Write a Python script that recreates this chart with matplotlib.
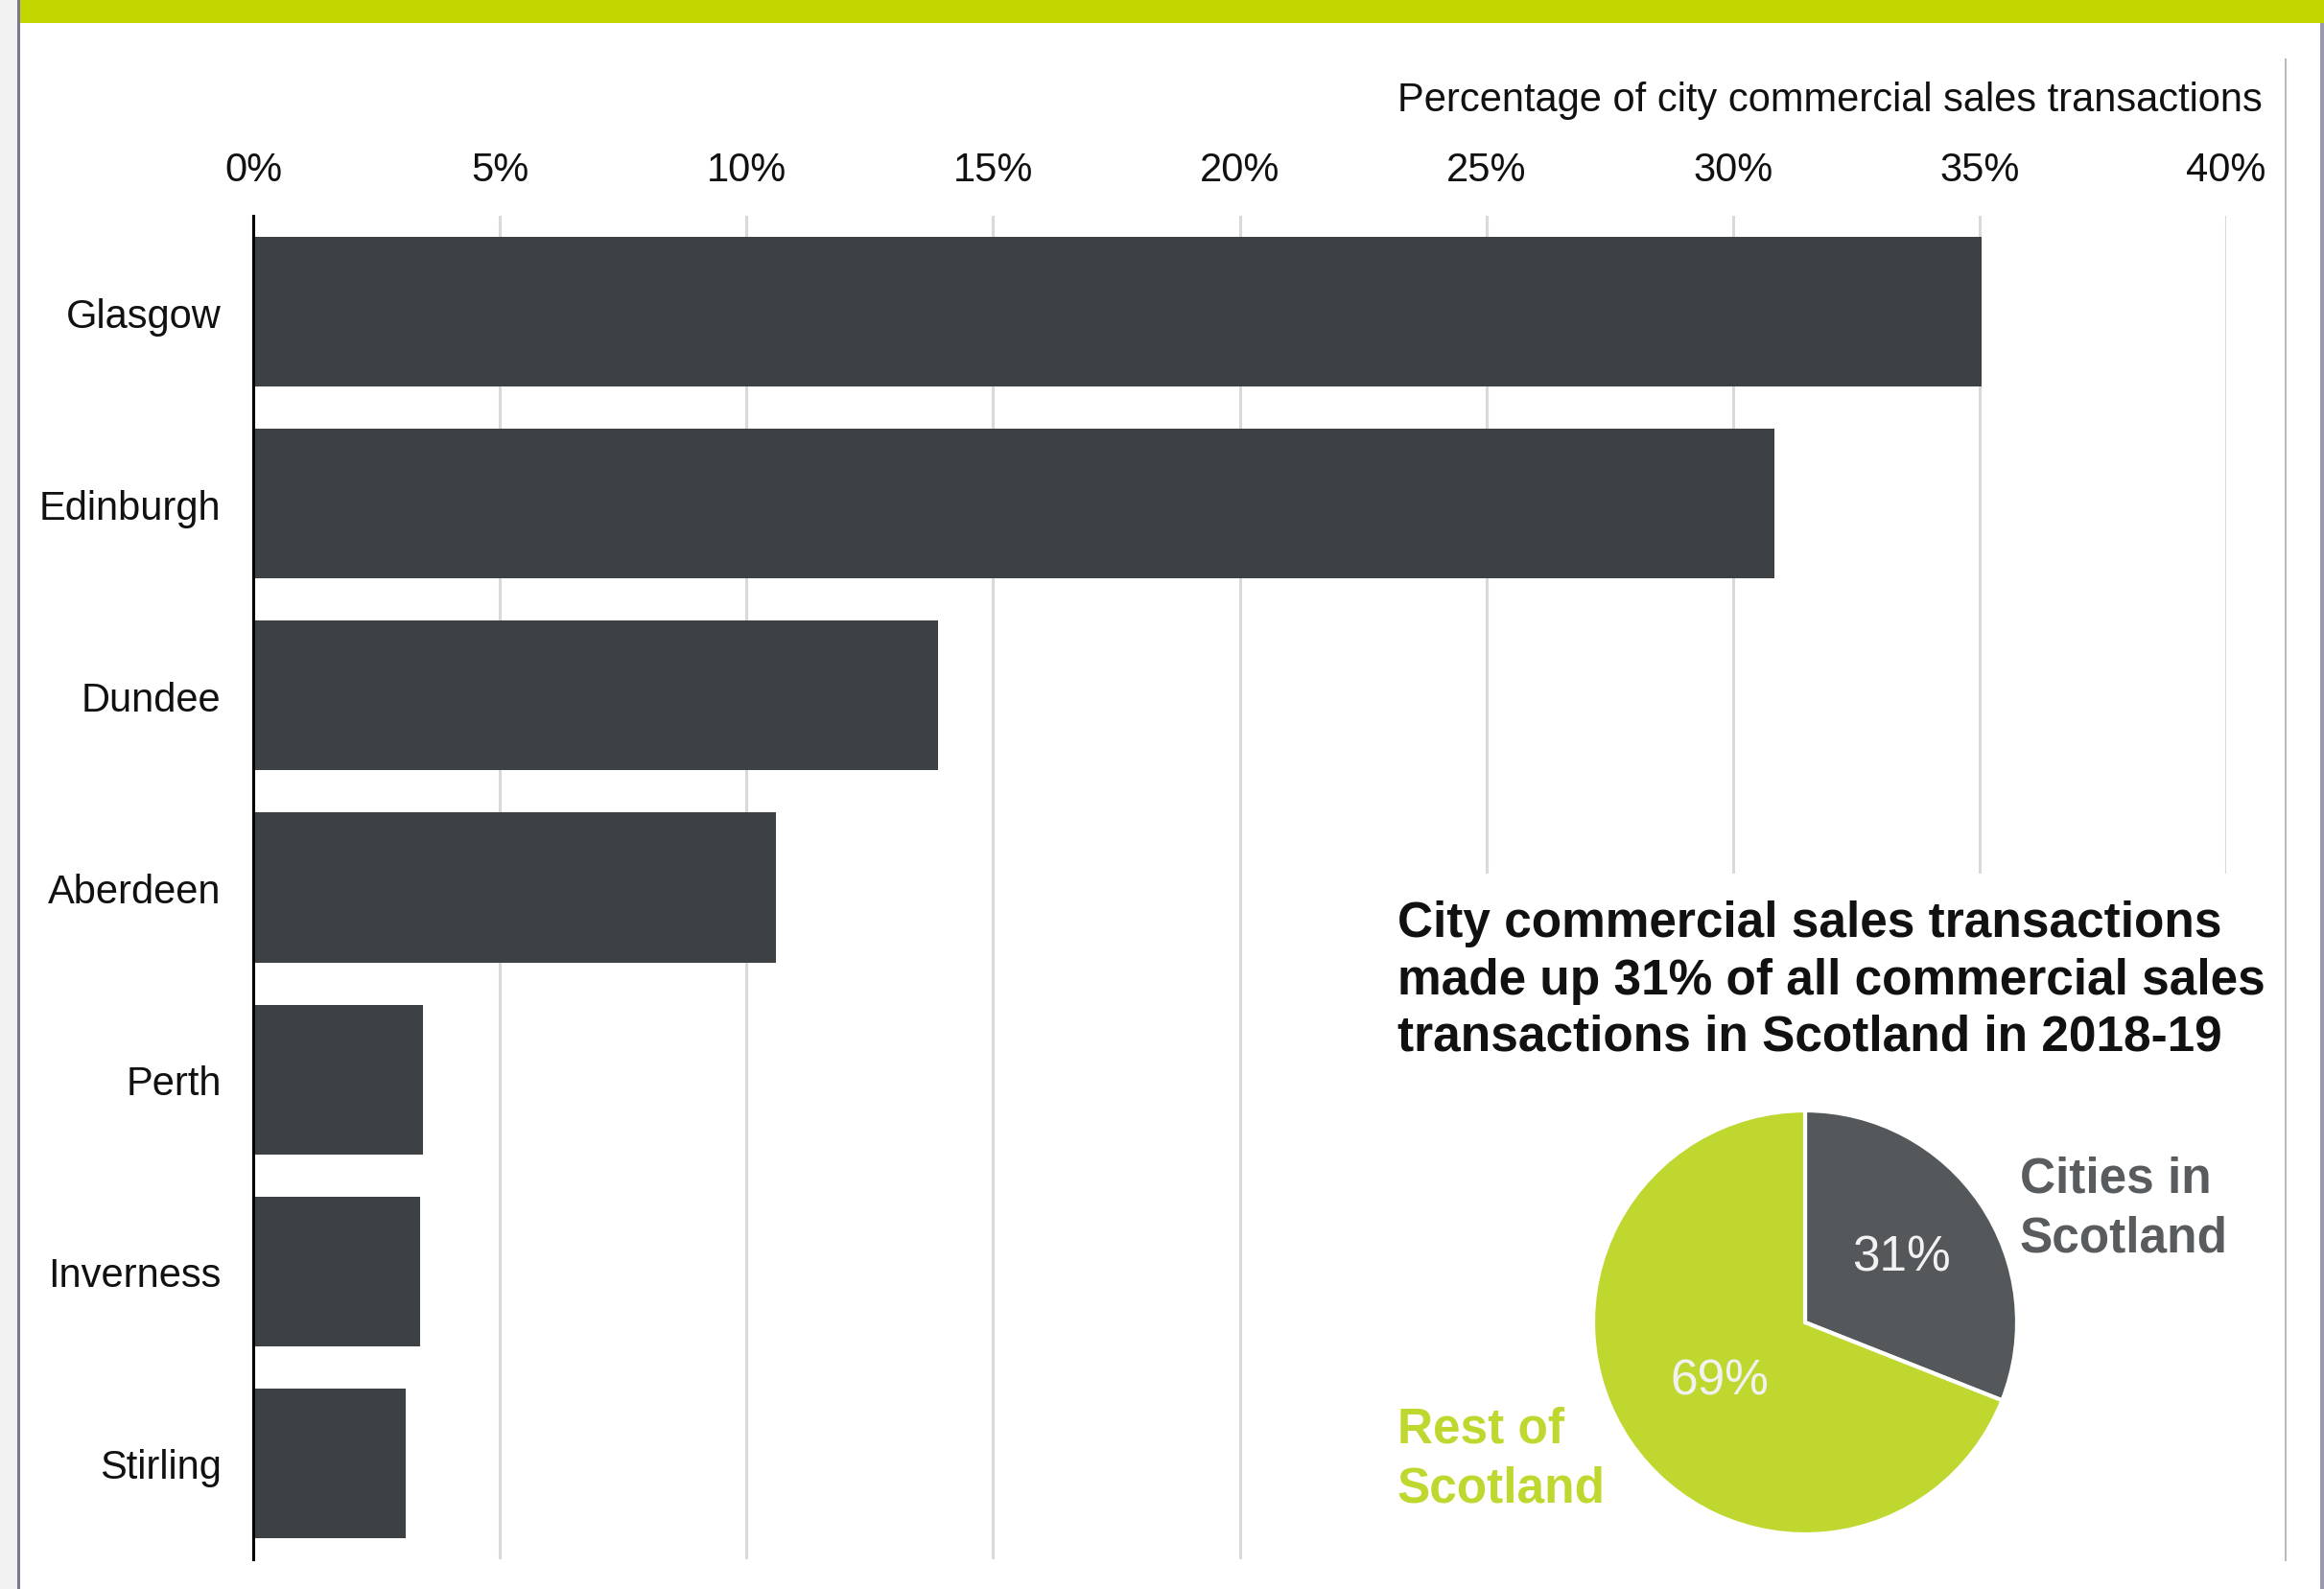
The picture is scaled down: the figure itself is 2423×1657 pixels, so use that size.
import numpy as np
import matplotlib
matplotlib.use("Agg")
import matplotlib.pyplot as plt
from matplotlib.patches import Rectangle

plt.rcParams['font.family'] = ['Liberation Sans', 'DejaVu Sans']

# city share of commercial sales transactions (%)
cities = ["Glasgow", "Edinburgh", "Dundee", "Aberdeen", "Perth", "Inverness", "Stirling"]
shares = [35.05, 30.84, 13.89, 10.60, 3.45, 3.38, 3.09]
xticks = [0, 5, 10, 15, 20, 25, 30, 35, 40]

# split of all Scottish commercial sales transactions
pie_labels = ["Cities in\nScotland", "Rest of\nScotland"]
pie_values = [31, 69]

W, H = 2423, 1658
BAR = '#3e4143'
DARK = '#54585a'
GREEN = '#c0d72f'
BAND = '#c4d600'


def fx(px):
    return px / W


def fy(py):
    return 1 - py / H


fig = plt.figure(figsize=(W / 100, H / 100), dpi=100)
fig.patch.set_facecolor('white')

# frame decorations
fig.add_artist(Rectangle((0, 0), fx(18), 1, transform=fig.transFigure,
                         facecolor='#f2f2f2', edgecolor='none', zorder=0))
fig.add_artist(Rectangle((fx(18), 0), fx(3), 1, transform=fig.transFigure,
                         facecolor='#7a7890', edgecolor='none', zorder=0))
fig.add_artist(Rectangle((fx(2419), 0), fx(4), 1, transform=fig.transFigure,
                         facecolor='#9a98b0', edgecolor='none', zorder=0))
fig.add_artist(Rectangle((fx(21), fy(25)), 1, fy(0) - fy(25), transform=fig.transFigure,
                         facecolor=BAND, edgecolor='none', zorder=0))
fig.add_artist(plt.Line2D([fx(2383), fx(2383)], [fy(63), fy(1628)],
                          transform=fig.transFigure, color='#bbbbbb', lw=1.5))

# bar chart
ax = fig.add_axes([fx(264), fy(1627), fx(2321) - fx(264), fy(226) - fy(1627)])
y = np.arange(len(cities))
ax.barh(y, shares, height=0.78, color=BAR, zorder=2)
ax.set_ylim(len(cities) - 0.5, -0.5)
ax.set_xlim(0, 40)
ax.set_yticks(y)
ax.set_yticklabels(cities, fontsize=30, color='#111111')
ax.set_xticks(xticks)
ax.set_xticklabels([f"{v}%" for v in xticks], fontsize=30, color='#111111')
ax.xaxis.tick_top()
ax.tick_params(axis='x', length=0, pad=20)
ax.tick_params(axis='y', length=0, pad=24)
ax.grid(axis='x', color='#d9d9d9', lw=2.2, zorder=0)
ax.set_axisbelow(True)
for s in ['top', 'right', 'bottom']:
    ax.spines[s].set_visible(False)
ax.spines['left'].set_color('black')
ax.spines['left'].set_linewidth(2.2)
ax.spines['left'].set_zorder(3)

fig.text(fx(2359), fy(105), "Percentage of city commercial sales transactions",
         ha='right', va='center', fontsize=30, color='#111111')

# white panel holding the pie inset
fig.add_artist(Rectangle((fx(1420), fy(1630)), fx(2330) - fx(1420), fy(912) - fy(1630),
                         transform=fig.transFigure, facecolor='white',
                         edgecolor='none', zorder=1))

fig.text(fx(1457), fy(1023),
         "City commercial sales transactions\nmade up 31% of all commercial sales\n"
         "transactions in Scotland in 2018-19",
         ha='left', va='center', fontsize=37, fontweight='bold', color='#111111',
         linespacing=1.27, zorder=2)

# pie inset
cx, cy, r = 1882, 1380, 221
pax = fig.add_axes([fx(cx - r), fy(cy + r), fx(2 * r), fy(cy - r) - fy(cy + r)], zorder=2)
wedges, _ = pax.pie(pie_values, colors=[DARK, GREEN], startangle=90, counterclock=False,
                    radius=1, wedgeprops=dict(edgecolor='white', linewidth=3))
pax.set_xlim(-1, 1)
pax.set_ylim(-1, 1)
pax.set_aspect('equal')
pax.axis('off')

for w, v, d in zip(wedges, pie_values, [0.55, 0.49]):
    mid = np.deg2rad((w.theta1 + w.theta2) / 2)
    pax.text(d * np.cos(mid), d * np.sin(mid), f"{v}%", ha='center', va='center',
             fontsize=37, color='#f2f2f2')

fig.text(fx(2106), fy(1261), pie_labels[0], ha='left', va='center', fontsize=37,
         fontweight='bold', color='#585c5e', linespacing=1.33, zorder=3)
fig.text(fx(1457), fy(1522), pie_labels[1], ha='left', va='center', fontsize=37,
         fontweight='bold', color=GREEN, linespacing=1.33, zorder=3)

fig.savefig("out.png", dpi=100, facecolor='white')
